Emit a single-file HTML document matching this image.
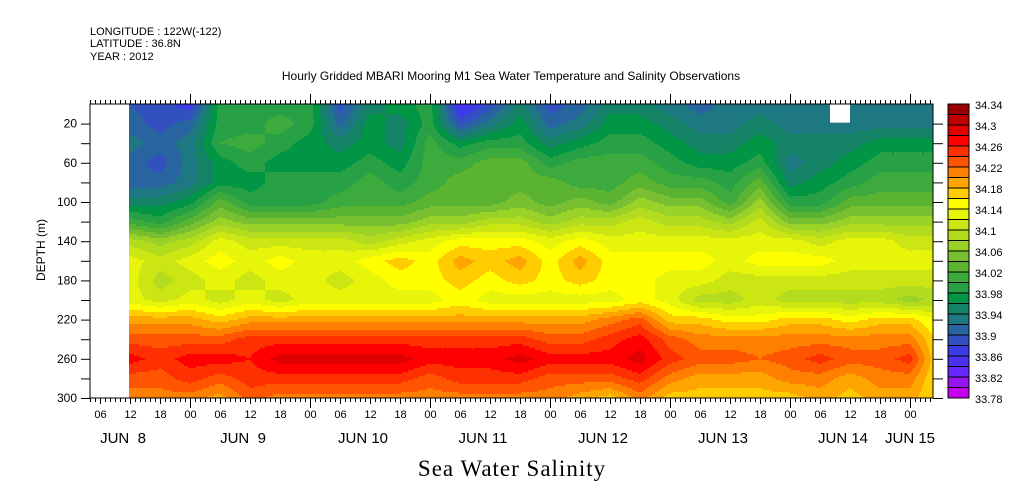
<!DOCTYPE html>
<html><head><meta charset="utf-8"><style>
body{margin:0;background:#fff;}
svg{display:block;font-family:"Liberation Sans",sans-serif;}
</style></head><body>
<svg id="chart" width="1009" height="504" viewBox="0 0 1009 504" xmlns="http://www.w3.org/2000/svg">
<text x="90" y="35" font-size="11">LONGITUDE : 122W(-122)</text>
<text x="90" y="47" font-size="11">LATITUDE : 36.8N</text>
<text x="90" y="60" font-size="11">YEAR : 2012</text>
<text x="511" y="80" font-size="12" text-anchor="middle">Hourly Gridded MBARI Mooring M1 Sea Water Temperature and Salinity Observations</text>
<g id="plot"></g>
<g id="axes"></g>
<g id="cbar"></g>
<text transform="translate(45,250) rotate(-90)" font-size="12" text-anchor="middle">DEPTH (m)</text>
<text x="512" y="476" font-size="23" text-anchor="middle" font-family="Liberation Serif, serif" letter-spacing="1">Sea Water Salinity</text>
</svg>
<script>
// hours since Jun 8 00:00 for each column
const times = [12,18,24,30,36,42,48,54,60,66,72,78,84,90,96,102,108,114,120,126,132,138,144,150,156,162,168,174];
const depths = [2,20,40,60,80,100,120,140,160,180,200,220,240,260,280,300];
// salinity per time column, listed by depth
const salinity = [
[33.90,33.91,33.93,33.91,33.91,33.95,34.01,34.09,34.13,34.13,34.13,34.19,34.23,34.27,34.23,34.21],
[33.89,33.89,33.91,33.89,33.91,33.95,33.99,34.07,34.11,34.09,34.11,34.19,34.23,34.25,34.23,34.21],
[33.87,33.91,33.93,33.93,33.93,33.97,34.03,34.09,34.13,34.11,34.13,34.19,34.23,34.27,34.25,34.21],
[33.99,33.99,34.00,33.97,33.97,34.03,34.07,34.13,34.15,34.13,34.11,34.17,34.23,34.27,34.23,34.19],
[33.99,33.99,34.01,33.99,33.97,33.99,34.05,34.11,34.13,34.11,34.13,34.19,34.25,34.26,34.25,34.23],
[33.99,34.01,33.99,33.97,33.99,33.99,34.05,34.11,34.15,34.13,34.11,34.19,34.25,34.29,34.25,34.21],
[33.99,33.99,33.97,33.97,33.99,33.99,34.05,34.11,34.13,34.13,34.13,34.19,34.25,34.29,34.25,34.21],
[33.89,33.91,33.95,33.97,33.99,34.01,34.05,34.11,34.13,34.11,34.13,34.19,34.25,34.29,34.25,34.21],
[33.95,33.97,33.97,33.99,34.01,34.01,34.05,34.09,34.15,34.13,34.13,34.19,34.25,34.29,34.25,34.21],
[33.97,33.95,33.95,33.97,33.99,34.01,34.05,34.11,34.17,34.15,34.13,34.19,34.25,34.29,34.25,34.21],
[33.99,33.99,34.01,34.01,34.01,34.03,34.07,34.13,34.15,34.15,34.13,34.19,34.25,34.27,34.23,34.21],
[33.85,33.89,33.97,34.01,34.03,34.03,34.07,34.15,34.19,34.17,34.15,34.19,34.25,34.27,34.25,34.21],
[33.89,33.93,33.99,34.03,34.03,34.03,34.09,34.15,34.17,34.15,34.13,34.19,34.25,34.27,34.25,34.21],
[33.95,33.97,33.99,34.03,34.03,34.05,34.09,34.15,34.19,34.17,34.13,34.19,34.25,34.29,34.25,34.21],
[33.89,33.91,33.95,33.99,34.03,34.03,34.07,34.13,34.15,34.15,34.13,34.19,34.23,34.27,34.23,34.21],
[33.91,33.93,33.97,34.01,34.01,34.05,34.09,34.15,34.19,34.17,34.13,34.19,34.23,34.27,34.23,34.19],
[33.95,33.97,33.99,34.01,34.01,34.03,34.09,34.13,34.15,34.15,34.13,34.21,34.25,34.27,34.23,34.17],
[33.95,33.97,33.99,34.01,34.03,34.07,34.11,34.13,34.15,34.15,34.15,34.23,34.27,34.29,34.25,34.21],
[33.93,33.95,33.97,33.99,34.01,34.05,34.09,34.13,34.15,34.13,34.13,34.17,34.23,34.25,34.21,34.17],
[33.91,33.93,33.95,33.97,34.01,34.05,34.09,34.13,34.15,34.13,34.09,34.17,34.21,34.23,34.19,34.17],
[33.93,33.93,33.95,33.97,33.99,34.01,34.07,34.13,34.13,34.11,34.09,34.15,34.21,34.23,34.19,34.17],
[33.93,33.95,33.97,33.99,34.03,34.07,34.11,34.13,34.15,34.11,34.11,34.15,34.21,34.22,34.19,34.17],
[33.93,33.93,33.95,33.93,33.95,33.99,34.05,34.13,34.15,34.11,34.09,34.17,34.21,34.23,34.21,34.17],
[33.93,33.93,33.95,33.95,33.97,33.99,34.05,34.11,34.15,34.11,34.09,34.17,34.21,34.25,34.21,34.19],
[33.93,33.93,33.95,33.97,33.99,34.03,34.07,34.13,34.13,34.11,34.09,34.15,34.21,34.23,34.19,34.17],
[33.93,33.93,33.97,33.99,34.01,34.03,34.07,34.13,34.13,34.11,34.09,34.17,34.21,34.23,34.21,34.19],
[33.93,33.93,33.97,33.99,34.01,34.03,34.07,34.11,34.13,34.11,34.07,34.17,34.21,34.25,34.21,34.19],
[33.93,33.93,33.97,33.99,34.01,34.03,34.07,34.11,34.13,34.11,34.09,34.13,34.15,34.15,34.15,34.15]
];
const levelMin = 33.78, levelStep = 0.02;
const levelColors = ["#c800f0","#9614f0","#6428ff","#4a32f0","#3c3ce6","#3250c0","#2864a0","#1e7882","#148264","#009646","#28a046","#3caa3c","#5ab432","#78c032","#9bd228","#b4dc1e","#cce614","#e6f50a","#ffff00","#ffcc00","#ffa500","#ff8000","#ff5500","#ff3000","#ff0000","#e00000","#c00000","#9b0000"];
const cbarLabels = ["34.34","34.3","34.26","34.22","34.18","34.14","34.1","34.06","34.02","33.98","33.94","33.9","33.86","33.82","33.78"];
const yTickLabels = ["20","60","100","140","180","220","260","300"];
const hourLabels = ["06","12","18","00"];
const dayLabels = ["JUN  8","JUN  9","JUN 10","JUN 11","JUN 12","JUN 13","JUN 14","JUN 15"];
const missing = [{t0:152,t1:156,d0:0,d1:19}];

const NS="http://www.w3.org/2000/svg";
const X0=90,X1=933,Y0=104,Y1=398;
const H0=4, HPX=5; // hour at left edge, px per hour
const xs=h=>X0+(h-H0)*HPX;
const ys=d=>Y0+d*(Y1-Y0)/300;
const xinv=x=>H0+(x-X0)/HPX;
const yinv=y=>(y-Y0)*300/(Y1-Y0);
function mk(tag,attrs,parent){const e=document.createElementNS(NS,tag);for(const k in attrs)e.setAttribute(k,attrs[k]);parent.appendChild(e);return e;}
function idxOf(arr,v){let i=0;while(i<arr.length-2&&v>arr[i+1])i++;return i;}
function sample(h,d){
  const i=idxOf(times,h), j=idxOf(depths,d);
  let tx=(h-times[i])/(times[i+1]-times[i]); tx=Math.max(0,Math.min(1,tx));
  let ty=(d-depths[j])/(depths[j+1]-depths[j]); ty=Math.max(0,Math.min(1,ty));
  const a=salinity[i][j],b=salinity[i+1][j],c=salinity[i][j+1],e=salinity[i+1][j+1];
  return (a*(1-tx)+b*tx)*(1-ty)+(c*(1-tx)+e*tx)*ty;
}
function colorAt(x,d){
  const v=sample(xinv(x),d);
  let k=Math.floor((v-levelMin)/levelStep);
  if(!isFinite(k))k=0;
  k=Math.max(0,Math.min(levelColors.length-1,k));
  return levelColors[k];
}
const plot=document.getElementById('plot');
const xStart=Math.max(X0,xs(times[0])-1);
const xEnd=Math.min(X1,xs(times[times.length-1]));
const SX=1,SY=2;
for(let y=Y0;y<Y1;y+=SY){
  const d=yinv(y+SY/2);
  let runStart=xStart,runCol=colorAt(xStart+0.5,d);
  const flush=(xe)=>{
    const r=mk('rect',{x:runStart,y:y,width:xe-runStart+0.5,height:SY+0.5,fill:runCol},plot);
    
    
  };
  for(let x=xStart+SX;x<xEnd;x+=SX){
    const col=colorAt(x+SX/2,d);
    if(col!==runCol){flush(x);runStart=x;runCol=col;}
  }
  flush(xEnd);
}
missing.forEach(m=>{
  const r=mk('rect',{x:xs(m.t0),y:ys(m.d0),width:xs(m.t1)-xs(m.t0),height:ys(m.d1)-ys(m.d0),fill:'#fff'},plot);
  
  
});
// axes
const ax=document.getElementById('axes');
const frame=mk('rect',{x:X0,y:Y0,width:X1-X0,height:Y1-Y0,fill:'none',stroke:'#000','stroke-width':1},ax);


for(let h=H0;h<=xinv(X1)+0.01;h++){
  const x=xs(h)+0.5;
  const len=(h%24===0)?10:4;
  const lb=(h%24===0)?10:(h%6===0?6:4);
  mk('line',{x1:x,x2:x,y1:Y0,y2:Y0-len,stroke:'#000'},ax);
  mk('line',{x1:x,x2:x,y1:Y1,y2:Y1+lb,stroke:'#000'},ax);
  if(h%6===0&&h>=6){
    const t=mk('text',{x:x,y:Y1+20,'font-size':11,'text-anchor':'middle'},ax);
    t.textContent=hourLabels[(h/6-1)%4];
    
    
  }
}
dayLabels.forEach((lab,i)=>{
  const cx=(i<7)?xs(i*24+12)-7:xs(i*24);
  const t=mk('text',{x:cx,y:Y1+45,'font-size':15,'text-anchor':'middle','xml:space':'preserve'},ax);
  t.style.whiteSpace='pre';
  t.textContent=lab;
  
  
});
for(let d=20;d<=300;d+=20){
  const y=ys(d)+0.5;
  mk('line',{x1:X0,x2:X0-9,y1:y,y2:y,stroke:'#000'},ax);
  mk('line',{x1:X1,x2:X1+10,y1:y,y2:y,stroke:'#000'},ax);
}
yTickLabels.forEach(l=>{
  const t=mk('text',{x:77,y:ys(+l)+4,'font-size':12,'text-anchor':'end'},ax);
  t.textContent=l;
  
  
});
// colorbar
const cb=document.getElementById('cbar');
const CX=948,CW=21,n=levelColors.length,bh=(Y1-Y0)/n;
levelColors.forEach((c,k)=>{
  const r=mk('rect',{x:CX,y:Y1-(k+1)*bh,width:CW,height:bh,fill:c,stroke:'#000','stroke-width':1},cb);
  
  
});
cbarLabels.forEach((l,i)=>{
  const t=mk('text',{x:975,y:Y0+i*2*bh+5,'font-size':11},cb);
  t.textContent=l;
  
  
});
</script>
</body></html>
